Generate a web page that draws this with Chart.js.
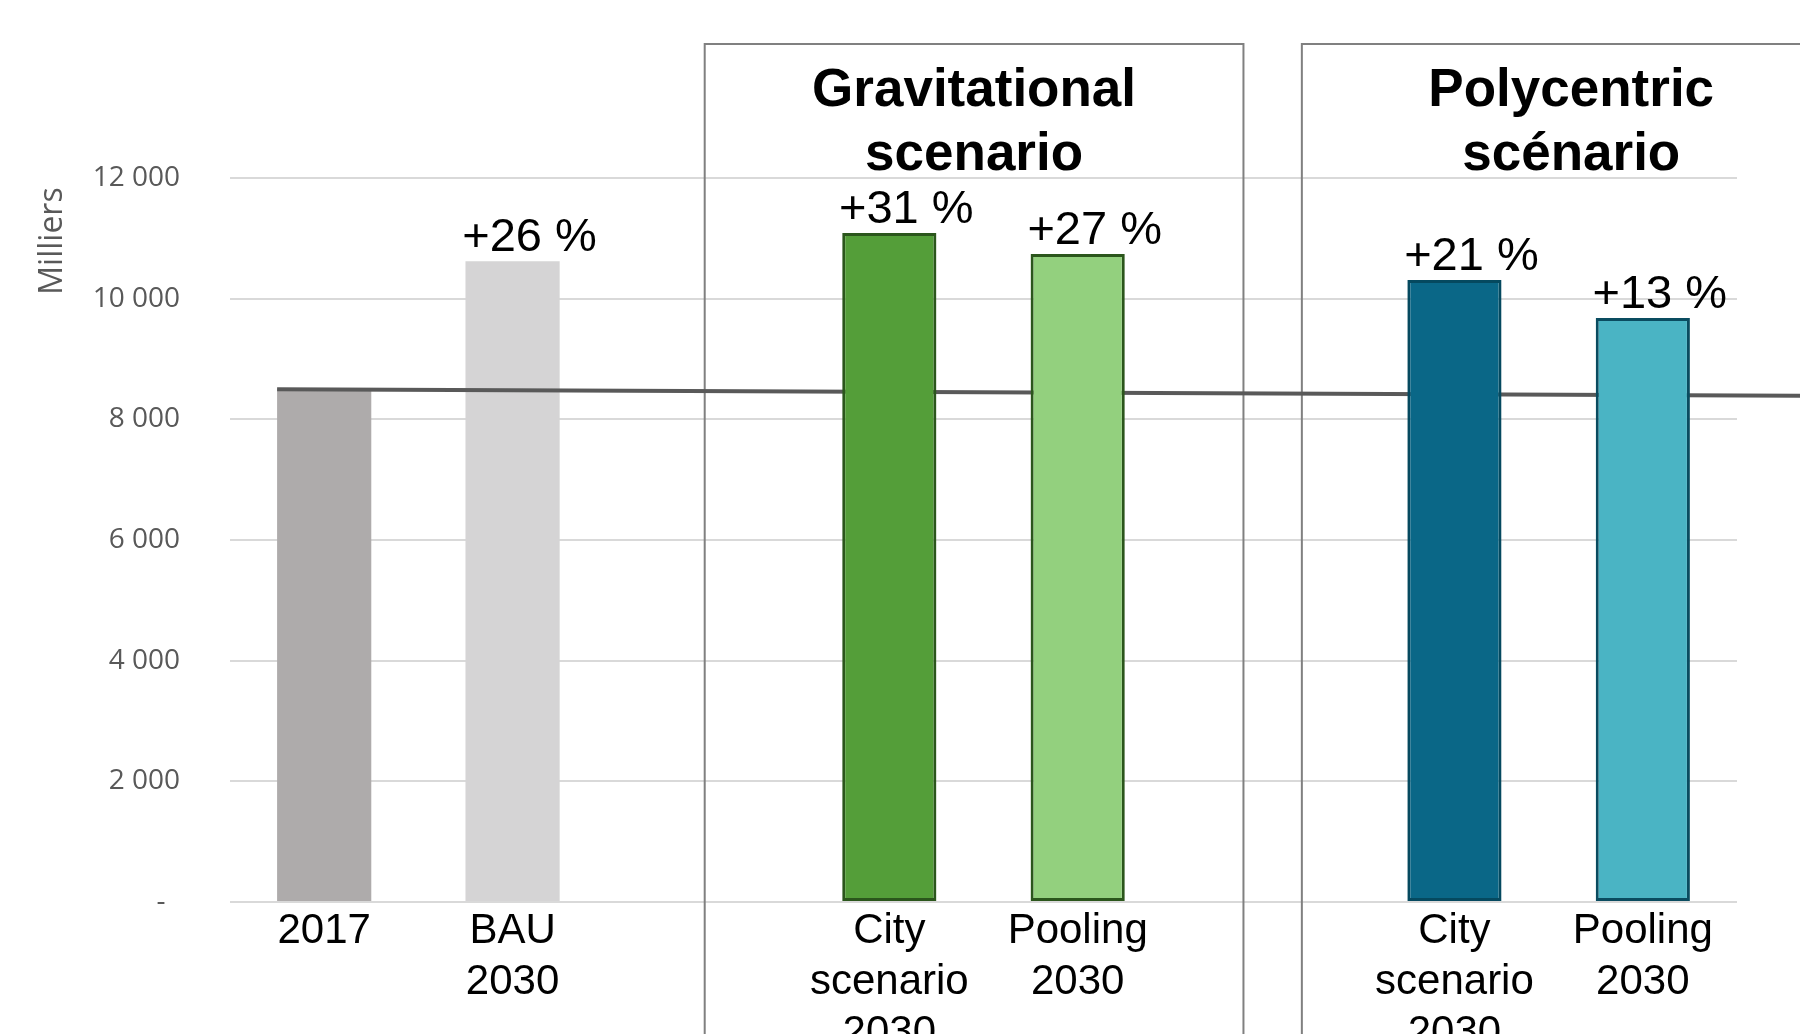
<!DOCTYPE html>
<html>
<head>
<meta charset="utf-8">
<script src="https://cdn.jsdelivr.net/npm/chart.js@4"></script>
<style>
  html, body { margin: 0; padding: 0; background: #fff; }
  #wrap { width: 1800px; height: 1034px; }
</style>
</head>
<body>
<div id="wrap"><canvas id="chart" width="1800" height="1034"></canvas></div>
<script>
// categories (empty slots separate the scenario groups)
const categories = [
    ['2017'], ['BAU', '2030'], '',
    ['City', 'scenario', '2030'], ['Pooling', '2030'], '',
    ['City', 'scenario', '2030'], ['Pooling', '2030']
];
// values in thousands
const referenceValues = [8470, 10620, null, null, null, null, null, null];
const scenarioValues  = [null, null, null, 11090, 10740, null, 10310, 9680];
const changeLabels    = ['', '+26 %', '', '+31 %', '+27 %', '', '+21 %', '+13 %'];
const yTicks = [0, 2000, 4000, 6000, 8000, 10000, 12000];
// level of 2017 carried across the chart (start, end)
const refLine = [8500, 8390];

const referenceColors = ['#aeabab', '#d5d4d5', null, null, null, null, null, null];
const scenarioColors  = [null, null, null, '#549e39', '#93d07e', null, '#0a6787', '#4ab4c4'];
const scenarioBorders = [null, null, null, '#2b561c', '#2b561c', null, '#05495f', '#0a4c60'];

const groups = [
    { title: ['Gravitational', 'scenario'], from: 2.02, to: 4.88, center: 3.45 },
    { title: ['Polycentric', 'scénario'], from: 5.19, to: 9, center: 6.62 }
];

function fmt(v) {
    if (v === 0) return '-  ';
    return String(v).replace(/\B(?=(\d{3})+(?!\d))/g, ' ');
}

const decorPlugin = {
    id: 'decor',
    beforeDatasetsDraw(chart) {
        const { ctx } = chart;
        const x = chart.scales.x;
        ctx.save();
        ctx.strokeStyle = '#808080';
        ctx.lineWidth = 2;
        groups.forEach(g => {
            const l = x.getPixelForValue(g.from), r = x.getPixelForValue(g.to);
            ctx.beginPath();
            ctx.moveTo(l, chart.height + 5);
            ctx.lineTo(l, 44);
            ctx.lineTo(r, 44);
            ctx.lineTo(r, chart.height + 5);
            ctx.stroke();
        });
        ctx.restore();
    },
    afterDatasetDraw(chart, args) {
        if (args.index !== 0) return;
        const { ctx } = chart;
        const y = chart.scales.y;
        const first = args.meta.data[0];
        const x0 = first.x - first.width / 2;
        ctx.save();
        ctx.strokeStyle = '#595959';
        ctx.lineWidth = 4;
        ctx.beginPath();
        ctx.moveTo(x0, y.getPixelForValue(refLine[0]));
        ctx.lineTo(chart.width, y.getPixelForValue(refLine[1]));
        ctx.stroke();
        ctx.restore();
    },
    afterDraw(chart) {
        const { ctx } = chart;
        const x = chart.scales.x, y = chart.scales.y;
        ctx.save();
        // change labels above bars
        ctx.fillStyle = '#000';
        ctx.font = '47px "Liberation Sans", Arial, sans-serif';
        ctx.textAlign = 'center';
        ctx.textBaseline = 'middle';
        changeLabels.forEach((t, i) => {
            if (!t) return;
            const v = referenceValues[i] ?? scenarioValues[i];
            ctx.fillText(t, x.getPixelForValue(i) + 17, y.getPixelForValue(v) - 23);
        });
        // group titles
        ctx.font = 'bold 53px "Liberation Sans", Arial, sans-serif';
        groups.forEach(g => {
            const cx = x.getPixelForValue(g.center);
            ctx.fillText(g.title[0], cx, 91);
            ctx.fillText(g.title[1], cx, 155);
        });
        // unit label
        ctx.translate(53, 241);
        ctx.rotate(-Math.PI / 2);
        ctx.fillStyle = '#595959';
        ctx.font = '32px "Open Sans", sans-serif';
        ctx.fillText('Milliers', 0, 0);
        ctx.restore();
    }
};

new Chart(document.getElementById('chart'), {
    type: 'bar',
    data: {
        labels: categories,
        datasets: [
            { data: referenceValues, backgroundColor: referenceColors, borderWidth: 0, order: 2 },
            { data: scenarioValues, backgroundColor: scenarioColors, borderColor: scenarioBorders,
              borderWidth: 3, borderSkipped: false, order: 1 }
        ]
    },
    options: {
        responsive: false,
        animation: false,
        layout: { padding: { top: 178, left: 0, right: 63, bottom: 0 } },
        datasets: { bar: { barPercentage: 0.5, categoryPercentage: 1.0 } },
        plugins: { legend: { display: false }, tooltip: { enabled: false } },
        scales: {
            x: {
                stacked: true,
                grid: { display: false },
                border: { display: false },
                afterFit: s => { s.height = 132; },
                ticks: {
                    maxRotation: 0, autoSkip: false, padding: -4, color: '#000',
                    font: { family: '"Liberation Sans", Arial, sans-serif', size: 42, lineHeight: 1.21 }
                }
            },
            y: {
                min: 0, max: 12000,
                afterFit: s => { s.width = 230; },
                afterBuildTicks: s => { s.ticks = yTicks.map(v => ({ value: v })); },
                grid: { color: '#d9d9d9', lineWidth: 2, drawTicks: false },
                border: { display: false },
                ticks: {
                    padding: 50, color: '#595959',
                    font: { family: '"Open Sans", sans-serif', size: 28 },
                    callback: v => fmt(v)
                }
            }
        }
    },
    plugins: [decorPlugin]
});
</script>
</body>
</html>
